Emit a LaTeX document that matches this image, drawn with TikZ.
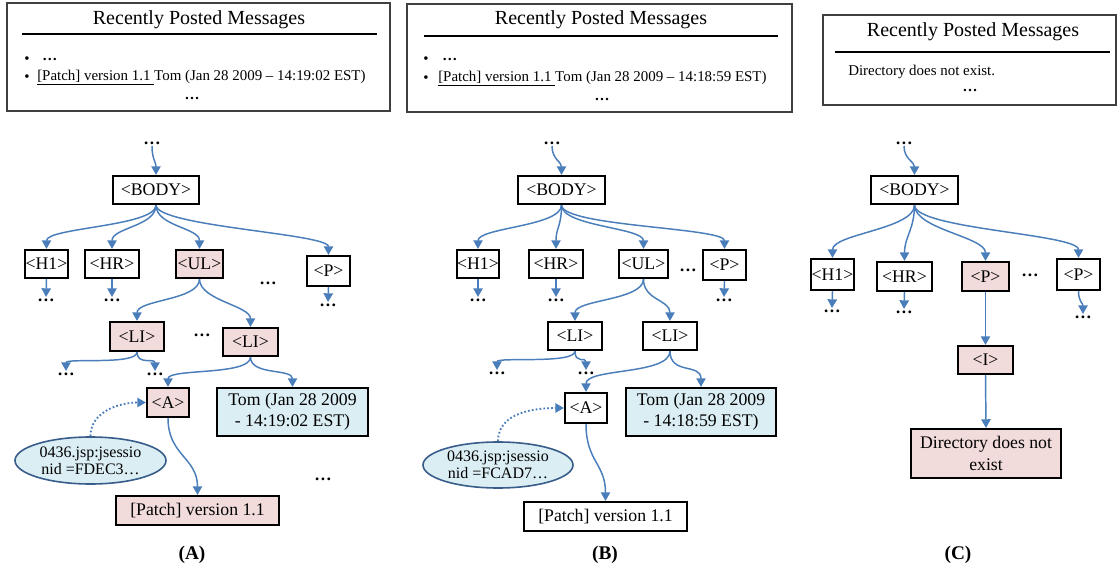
\documentclass[tikz,border=0pt]{standalone}
\usepackage{fontspec}
\setmainfont{Liberation Serif}
\usetikzlibrary{arrows.meta,shapes.geometric}
\definecolor{arrowblue}{HTML}{4A7EBB}
\definecolor{pinkfill}{HTML}{F2DCDB}
\definecolor{bluefill}{HTML}{DBEEF4}
\definecolor{ellborder}{HTML}{385D8A}
\definecolor{framegray}{HTML}{404040}
\begin{document}
\begin{tikzpicture}[x=0.75pt,y=-0.75pt,
 sz/.style 2 args={minimum width=#1*0.75pt,minimum height=#2*0.75pt},
 box/.style={draw=black,line width=1.6pt,inner sep=0pt,align=center,font=\fontsize{13.3}{16}\selectfont},
 pinkbox/.style={box,fill=pinkfill},
 bluebox/.style={box,fill=bluefill},
 ell/.style={ellipse,draw=ellborder,line width=1.2pt,fill=bluefill,inner xsep=0pt,inner ysep=-2pt,align=center,font=\fontsize{12}{12.75}\selectfont},
 dts/.style={inner sep=1pt,font=\fontsize{13}{15}\selectfont\bfseries},
 arr/.style={draw=arrowblue,line width=1.1pt,-{Triangle[width=7pt,length=6.5pt]}},
 dotarr/.style={arr,line width=1.4pt,dash pattern=on 1.3pt off 1.6pt},
 crv/.style={out=-90,in=90,distance=#1},
 panel/.style={draw=framegray,line width=0.8pt},
 ttl/.style={font=\fontsize{15}{18}\selectfont,inner sep=0pt},
 lst/.style={font=\fontsize{11.2}{13}\selectfont,inner sep=0pt},
 rule/.style={line width=1.5pt},
 lbl/.style={font=\fontsize{14.5}{16}\selectfont\bfseries}
]
\useasboundingbox (0,0) rectangle (1118,571);
\fill[white] (0,0) rectangle (1118,571);

% ---------------- Panel A: page ----------------
\draw[panel] (7,3) rectangle (390,111);
\node[ttl] (tA) at (199,20) {Recently Posted Messages};
\draw[rule] (22,34) -- (377,34);
\node[lst] (b1A) at (27,60) {•};
\node[lst,anchor=west] (l1A) at (42,60) {\textbf{…}};
\node[lst] (b2A) at (27,78) {•};
\node[lst,anchor=west] (l2A) at (37,78) {\underline{[Patch] version 1.1 }Tom (Jan 28 2009 – 14:19:02 EST)};
\node[lst] (eA) at (192,99) {\textbf{…}};

% ---------------- Panel A: tree ----------------
\node[dts] (t0A) at (152,143) {…};
\node[box,sz={86}{28}] (bodyA) at (156,190) {<BODY>};
\node[box,sz={43}{28}] (h1A) at (46.5,264) {<H1>};
\node[box,sz={54}{28}] (hrA) at (112,264) {<HR>};
\node[pinkbox,sz={47}{28}] (ulA) at (199.5,264) {<UL>};
\node[dts] (mA) at (268,283) {…};
\node[box,sz={43}{30}] (pA) at (328.5,271) {<P>};
\node[dts] (dh1A) at (46,300) {…};
\node[dts] (dhrA) at (112,300) {…};
\node[dts] (dpA) at (328,305) {…};
\node[pinkbox,sz={54}{29}] (li1A) at (137,336.5) {<LI>};
\node[dts] (mlA) at (202,335) {…};
\node[pinkbox,sz={55}{28}] (li2A) at (250.5,342) {<LI>};
\node[dts] (dl1A) at (66,374) {…};
\node[dts] (dl2A) at (155,374) {…};
\node[pinkbox,sz={42}{29}] (aA) at (168,402.5) {<A>};
\node[bluebox,sz={151}{48}] (tomA) at (292.5,412) {Tom (Jan 28 2009\\- 14:19:02 EST)};
\node[ell,sz={151}{47}] (ellA) at (90.5,460.5) {0436.jsp:jsessio\\nid =FDEC3…};
\node[pinkbox,sz={163}{29}] (patchA) at (197.5,510.5) {[Patch] version 1.1};
\node[dts] (bA) at (323,479) {…};
\node[lbl] (capA) at (192,555) {(A)};

\draw[arr] (t0A.south) to[crv=10pt] (bodyA.north);
\foreach \n in {h1A,hrA,ulA,pA} \draw[arr] (bodyA.south) to[crv=16pt] (\n.north);
\draw[arr] (h1A.south) -- (dh1A.north);
\draw[arr] (hrA.south) -- (dhrA.north);
\draw[arr] (pA.south) -- (dpA.north);
\draw[arr] (ulA.south) to[crv=16pt] (li1A.north);
\draw[arr] (ulA.south) to[crv=16pt] (li2A.north);
\draw[arr] (li1A.south) to[crv=10pt] (dl1A.north);
\draw[arr] (li1A.south) to[crv=10pt] (dl2A.north);
\draw[arr] (li2A.south) to[crv=14pt] (aA.north);
\draw[arr] (li2A.south) to[crv=14pt] (tomA.north);
\draw[dotarr] (ellA.north) to[out=90,in=180] (aA.west);
\draw[arr] (aA.south) to[crv=28pt] (patchA.north);

% ---------------- Panel B: page ----------------
\draw[panel] (407,4) rectangle (792,112);
\node[ttl] (tB) at (601,20) {Recently Posted Messages};
\draw[rule] (424,36) -- (778,36);
\node[lst] (b1B) at (426,60) {•};
\node[lst,anchor=west] (l1B) at (442,60) {\textbf{…}};
\node[lst] (b2B) at (426,79) {•};
\node[lst,anchor=west] (l2B) at (438,79) {\underline{[Patch] version 1.1 }Tom (Jan 28 2009 – 14:18:59 EST)};
\node[lst] (eB) at (602,100) {\textbf{…}};

% ---------------- Panel B: tree ----------------
\node[dts] (t0B) at (552,143) {…};
\node[box,sz={87}{28}] (bodyB) at (561.5,190) {<BODY>};
\node[box,sz={42}{28}] (h1B) at (478,264) {<H1>};
\node[box,sz={54}{28}] (hrB) at (556,264) {<HR>};
\node[box,sz={49}{28}] (ulB) at (643.5,264) {<UL>};
\node[dts] (mB) at (688,270) {…};
\node[box,sz={43}{30}] (pB) at (724.5,265) {<P>};
\node[dts] (dh1B) at (478,300) {…};
\node[dts] (dhrB) at (556,300) {…};
\node[dts] (dpB) at (724,300) {…};
\node[box,sz={54}{28}] (li1B) at (575,336) {<LI>};
\node[box,sz={54}{28}] (li2B) at (670,336) {<LI>};
\node[dts] (dl1B) at (497,373) {…};
\node[dts] (dl2B) at (586,373) {…};
\node[box,sz={42}{30}] (aB) at (586,408) {<A>};
\node[bluebox,sz={150}{48}] (tomB) at (701,412) {Tom (Jan 28 2009\\- 14:18:59 EST)};
\node[ell,sz={150}{46}] (ellB) at (498,465) {0436.jsp:jsessio\\nid =FCAD7…};
\node[box,sz={163}{29}] (patchB) at (605.5,516.5) {[Patch] version 1.1};
\node[lbl] (capB) at (605,555) {(B)};

\draw[arr] (t0B.south) to[crv=10pt] (bodyB.north);
\foreach \n in {h1B,hrB,ulB,pB} \draw[arr] (bodyB.south) to[crv=16pt] (\n.north);
\draw[arr] (h1B.south) -- (dh1B.north);
\draw[arr] (hrB.south) -- (dhrB.north);
\draw[arr] (pB.south) -- (dpB.north);
\draw[arr] (ulB.south) to[crv=16pt] (li1B.north);
\draw[arr] (ulB.south) to[crv=16pt] (li2B.north);
\draw[arr] (li1B.south) to[crv=10pt] (dl1B.north);
\draw[arr] (li1B.south) to[crv=10pt] (dl2B.north);
\draw[arr] (li2B.south) to[crv=18pt] (aB.north);
\draw[arr] (li2B.south) to[crv=18pt] (tomB.north);
\draw[dotarr] (ellB.north) to[out=90,in=180] (aB.west);
\draw[arr] (aB.south) to[crv=28pt] (patchB.north);

% ---------------- Panel C: page ----------------
\draw[panel] (823,15) rectangle (1116,105);
\node[ttl] (tC) at (973,32) {Recently Posted Messages};
\draw[rule] (835,52) -- (1110,52);
\node[lst,anchor=west] (l1C) at (848,72) {Directory does not exist.};
\node[lst] (eC) at (970,91) {\textbf{…}};

% ---------------- Panel C: tree ----------------
\node[dts] (t0C) at (904,143) {…};
\node[box,sz={87}{28}] (bodyC) at (914.5,190) {<BODY>};
\node[box,sz={43}{31}] (h1C) at (832.5,274.5) {<H1>};
\node[box,sz={55}{29}] (hrC) at (904.5,276.5) {<HR>};
\node[pinkbox,sz={47}{29}] (p1C) at (985.5,276.5) {<P>};
\node[dts] (mC) at (1030,275) {…};
\node[box,sz={43}{31}] (p2C) at (1078.5,274.5) {<P>};
\node[dts] (dh1C) at (832,311) {…};
\node[dts] (dhrC) at (904,312) {…};
\node[dts] (dpC) at (1083,317) {…};
\node[pinkbox,sz={55}{28}] (iC) at (985.5,360) {<I>};
\node[pinkbox,sz={150}{49}] (dirC) at (986,453.5) {Directory does not\\exist};
\node[lbl] (capC) at (958,555) {(C)};

\draw[arr] (t0C.south) to[crv=10pt] (bodyC.north);
\foreach \n in {h1C,hrC,p1C,p2C} \draw[arr] (bodyC.south) to[crv=18pt] (\n.north);
\draw[arr] (h1C.south) -- (dh1C.north);
\draw[arr] (hrC.south) -- (dhrC.north);
\draw[arr] (p2C.south) to[crv=8pt] (dpC.north);
\draw[arr] (p1C.south) -- (iC.north);
\draw[arr] (iC.south) -- (dirC.north);
\end{tikzpicture}
\end{document}
